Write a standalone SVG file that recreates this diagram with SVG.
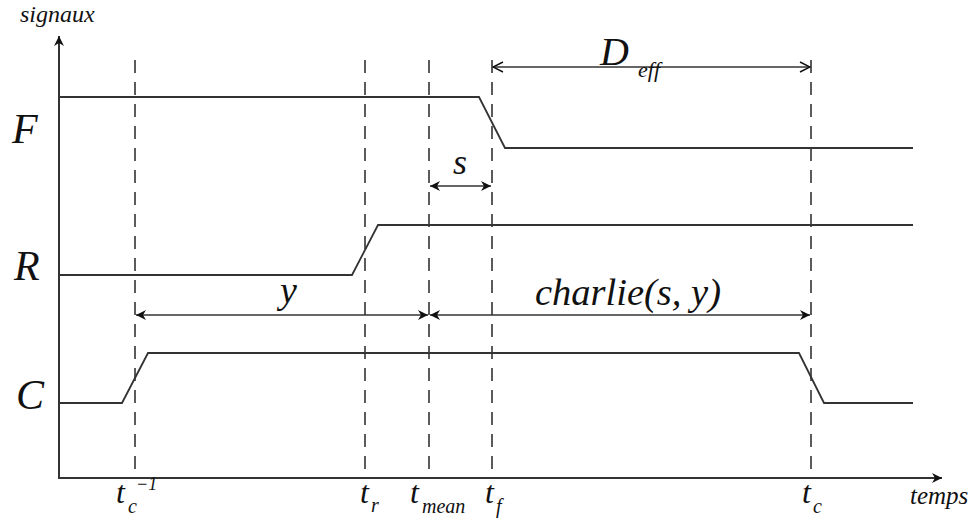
<svg xmlns="http://www.w3.org/2000/svg" width="976" height="528" viewBox="0 0 976 528">
<style>
.ax{stroke:#333;stroke-width:2;fill:none}
.sig{stroke:#333;stroke-width:1.8;fill:none}
.dash{stroke:#333;stroke-width:1.6;stroke-dasharray:13 9;fill:none}
.dim{stroke:#333;stroke-width:1.4;fill:none}
text{font-style:italic;fill:#111}
</style>
<defs>
<marker id="ah" viewBox="0 0 10 10" refX="10" refY="5" markerWidth="10" markerHeight="10" markerUnits="userSpaceOnUse" orient="auto-start-reverse">
<path d="M0,0 L10,5 L0,10 L3,5 Z" fill="#111"/>
</marker>
<marker id="av" viewBox="0 0 12 12" refX="11" refY="6" markerWidth="12" markerHeight="12" markerUnits="userSpaceOnUse" orient="auto-start-reverse">
<path d="M1,1 L11,6 L1,11" fill="none" stroke="#111" stroke-width="1.4"/>
</marker>
<marker id="axa" viewBox="0 0 10 10" refX="10" refY="5" markerWidth="10" markerHeight="10" markerUnits="userSpaceOnUse" orient="auto">
<path d="M0,0 L10,5 L0,10 L3,5 Z" fill="#111"/>
</marker>
</defs>
<g font-family="Liberation Serif, DejaVu Serif, serif">
<g id="axes">
<line class="ax" x1="59" y1="479" x2="59" y2="36" marker-end="url(#axa)"/>
<line class="ax" x1="58" y1="478" x2="942" y2="478" marker-end="url(#axa)"/>
<text x="20" y="22" font-size="24">signaux</text>
<text x="910" y="504" font-size="25">temps</text>
</g>
<g id="guides">
<line class="dash" x1="135" y1="60" x2="135" y2="478"/>
<line class="dash" x1="365" y1="60" x2="365" y2="478"/>
<line class="dash" x1="429" y1="60" x2="429" y2="478"/>
<line class="dash" x1="492" y1="60" x2="492" y2="478"/>
<line class="dash" x1="811" y1="60" x2="811" y2="478"/>
</g>
<g id="signal-F">
<text x="12" y="143" font-size="42">F</text>
<polyline class="sig" points="59,97 479,97 505,148 913,148"/>
</g>
<g id="signal-R">
<text x="14" y="280" font-size="42">R</text>
<polyline class="sig" points="59,275 352,275 378,225 913,225"/>
</g>
<g id="signal-C">
<text x="16" y="409" font-size="42">C</text>
<polyline class="sig" points="59,403 122,403 148,353 799,353 824,403 913,403"/>
</g>
<g id="connectors">
<line class="dim" x1="493" y1="67" x2="810" y2="67" marker-start="url(#av)" marker-end="url(#av)"/>
<line class="dim" x1="430" y1="186" x2="491" y2="186" marker-start="url(#ah)" marker-end="url(#ah)"/>
<line class="dim" x1="136" y1="315" x2="428" y2="315" marker-start="url(#ah)" marker-end="url(#ah)"/>
<line class="dim" x1="430" y1="315" x2="810" y2="315" marker-start="url(#ah)" marker-end="url(#ah)"/>
</g>
<g id="labels">
<text x="600" y="65" font-size="40">D</text>
<text x="638" y="77" font-size="22">eff</text>
<text x="453" y="174" font-size="36">s</text>
<text x="280" y="303" font-size="38">y</text>
<text x="535" y="305" font-size="38" textLength="186" lengthAdjust="spacingAndGlyphs">charlie(s, y)</text>
<text x="116" y="503" font-size="32">t</text>
<text x="128" y="513" font-size="20">c</text>
<text x="136" y="490" font-size="18">−1</text>
<text x="360" y="503" font-size="32">t</text>
<text x="371" y="512" font-size="20">r</text>
<text x="410" y="503" font-size="32">t</text>
<text x="422" y="513" font-size="20">mean</text>
<text x="485" y="503" font-size="32">t</text>
<text x="496" y="513" font-size="20">f</text>
<text x="802" y="503" font-size="32">t</text>
<text x="813" y="513" font-size="20">c</text>
</g>
</g>
</svg>
